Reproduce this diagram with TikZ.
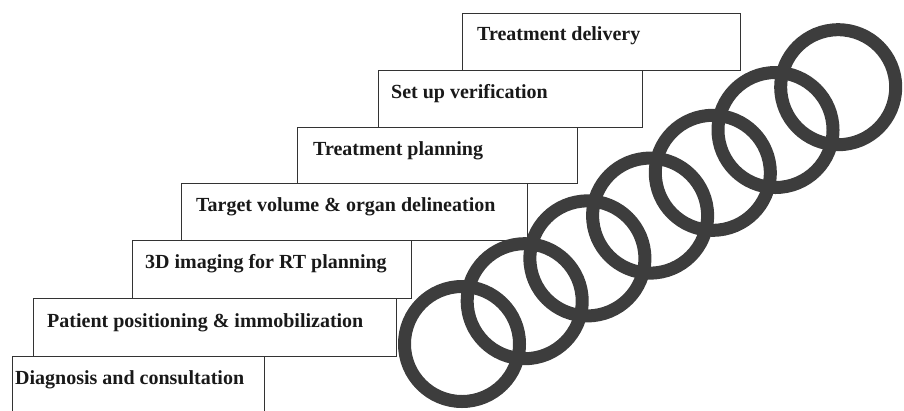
\documentclass[tikz,border=0pt]{standalone}
\usepackage{fontspec}
\setmainfont{Liberation Serif}
\usetikzlibrary{positioning, calc}

\begin{document}
\begin{tikzpicture}[
    x=1pt, y=-1pt,
    stepbox/.style={
        rectangle,
        draw=black!80,
        line width=1.3pt,
        anchor=north west,
        inner sep=0pt
    },
    steptext/.style={
        anchor=west,
        inner sep=0pt,
        text=black!90,
        font=\fontsize{20}{22}\selectfont\bfseries
    },
    ring/.style={
        circle,
        draw=black!76,
        line width=13pt,
        minimum size=115pt,
        inner sep=0pt
    }
]
    \useasboundingbox (0,0) rectangle (904,410);

    % =========================================================
    % STAIRCASE OF WORKFLOW STEPS
    % =========================================================
    \node [stepbox, minimum width=252pt, minimum height=60pt] (diag) at (12,356) {};
    \node [stepbox, minimum width=363pt, minimum height=58pt] (patient) at (33,298) {};
    \node [stepbox, minimum width=279pt, minimum height=58pt] (imaging) at (132,240) {};
    \node [stepbox, minimum width=346pt, minimum height=57pt] (target) at (181,183) {};
    \node [stepbox, minimum width=280pt, minimum height=56pt] (planning) at (297,127) {};
    \node [stepbox, minimum width=264pt, minimum height=57pt] (setup) at (378,70) {};
    \node [stepbox, minimum width=278pt, minimum height=57pt] (delivery) at (462,13) {};

    \node [steptext] (diagtxt) at ($(diag.north west)+(3,24)$) {Diagnosis and consultation};
    \node [steptext] (patienttxt) at ($(patient.north west)+(14,25)$) {Patient positioning \& immobilization};
    \node [steptext] (imagingtxt) at ($(imaging.north west)+(13,24)$) {3D imaging for RT planning};
    \node [steptext] (targettxt) at ($(target.north west)+(15,24)$) {Target volume \& organ delineation};
    \node [steptext] (planningtxt) at ($(planning.north west)+(16,24)$) {Treatment planning};
    \node [steptext] (setuptxt) at ($(setup.north west)+(13,24)$) {Set up verification};
    \node [steptext] (deliverytxt) at ($(delivery.north west)+(15,23)$) {Treatment delivery};

    % =========================================================
    % CHAIN OF LINKED RINGS
    % =========================================================
    \foreach \i in {1,...,7}
        \node [ring] (ring\i) at ($(462,344)+{\i-1}*(62.7,-42.8)$) {};

\end{tikzpicture}
\end{document}
